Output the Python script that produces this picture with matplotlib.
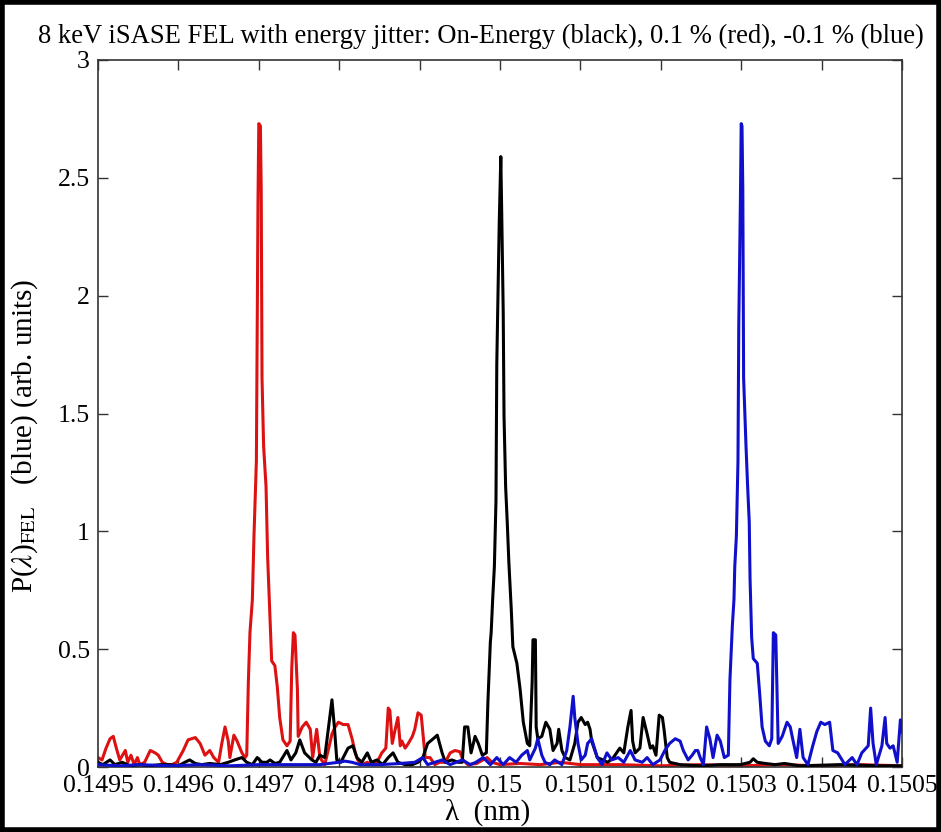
import matplotlib
matplotlib.use("Agg")
import matplotlib.pyplot as plt
from matplotlib.patches import Rectangle

plt.rcParams['font.family'] = ['Liberation Serif', 'DejaVu Serif']
plt.rcParams['mathtext.fontset'] = 'stix'

# ---- data: wavelength (nm) and power (arb. units) ----
red_x = [0.149500, 0.149505, 0.149510, 0.149515, 0.149519, 0.149522, 0.149527, 0.149534, 0.149537, 0.149541,
         0.149545, 0.149549, 0.149552, 0.149558, 0.149565, 0.149571, 0.149575, 0.149580, 0.149586, 0.149592,
         0.149598, 0.149606, 0.149612, 0.149621, 0.149627, 0.149633, 0.149639, 0.149644, 0.149650, 0.149654,
         0.149658, 0.149662, 0.149664, 0.149669, 0.149673, 0.149679, 0.149683, 0.149685, 0.149687, 0.149689,
         0.149692, 0.149693, 0.149694, 0.149697, 0.149698, 0.149699, 0.149700, 0.149702, 0.149703, 0.149704,
         0.149706, 0.149709, 0.149710, 0.149711, 0.149714, 0.149716, 0.149720, 0.149723, 0.149726, 0.149730,
         0.149735, 0.149739, 0.149741, 0.149743, 0.149745, 0.149748, 0.149749, 0.149754, 0.149759, 0.149764,
         0.149767, 0.149772, 0.149776, 0.149782, 0.149787, 0.149791, 0.149795, 0.149799, 0.149805, 0.149811,
         0.149816, 0.149820, 0.149823, 0.149828, 0.149835, 0.149841, 0.149847, 0.149853, 0.149858, 0.149861,
         0.149863, 0.149866, 0.149869, 0.149873, 0.149876, 0.149878, 0.149882, 0.149886, 0.149891, 0.149894,
         0.149898, 0.149902, 0.149907, 0.149913, 0.149919, 0.149925, 0.149932, 0.149938, 0.149944, 0.149950,
         0.149954, 0.149960, 0.149971, 0.149984, 0.149990, 0.150000, 0.150025, 0.150050, 0.150075, 0.150100,
         0.150149, 0.150199, 0.150249, 0.150299, 0.150348, 0.150398, 0.150448, 0.150500]
red_y = [0.04, 0.03, 0.08, 0.12, 0.13, 0.09, 0.03, 0.07, 0.02, 0.05,
         0.01, 0.04, 0.01, 0.02, 0.07, 0.06, 0.05, 0.02, 0.01, 0.01,
         0.02, 0.07, 0.115, 0.125, 0.10, 0.05, 0.07, 0.04, 0.02, 0.10,
         0.17, 0.11, 0.04, 0.135, 0.11, 0.06, 0.04, 0.05, 0.36, 0.57,
         0.71, 0.85, 0.98, 1.30, 1.88, 2.40, 2.73, 2.72, 2.45, 1.65,
         1.36, 1.19, 1.04, 0.89, 0.62, 0.45, 0.43, 0.34, 0.21, 0.115,
         0.09, 0.11, 0.42, 0.57, 0.56, 0.33, 0.13, 0.17, 0.19, 0.16,
         0.04, 0.16, 0.04, 0.01, 0.08, 0.14, 0.17, 0.19, 0.18, 0.18,
         0.12, 0.06, 0.03, 0.01, 0.02, 0.01, 0.02, 0.06, 0.08, 0.25,
         0.24, 0.10, 0.15, 0.21, 0.09, 0.11, 0.08, 0.10, 0.13, 0.16,
         0.23, 0.22, 0.04, 0.04, 0.01, 0.02, 0.02, 0.06, 0.07, 0.065,
         0.03, 0.01, 0.015, 0.04, 0.02, 0.01, 0.015, 0.01, 0.02, 0.01,
         0.01, 0.005, 0.01, 0.005, 0.01, 0.005, 0.01, 0.005]

black_x = [0.149500, 0.149506, 0.149515, 0.149521, 0.149530, 0.149540, 0.149552, 0.149565, 0.149577, 0.149590,
           0.149600, 0.149608, 0.149614, 0.149621, 0.149629, 0.149639, 0.149652, 0.149662, 0.149670, 0.149679,
           0.149685, 0.149692, 0.149698, 0.149704, 0.149710, 0.149714, 0.149720, 0.149726, 0.149735, 0.149740,
           0.149746, 0.149751, 0.149757, 0.149766, 0.149771, 0.149776, 0.149782, 0.149786, 0.149791, 0.149794,
           0.149797, 0.149802, 0.149811, 0.149817, 0.149822, 0.149828, 0.149835, 0.149840, 0.149847, 0.149854,
           0.149861, 0.149867, 0.149873, 0.149882, 0.149891, 0.149898, 0.149904, 0.149910, 0.149917, 0.149922,
           0.149928, 0.149932, 0.149940, 0.149948, 0.149953, 0.149956, 0.149960, 0.149964, 0.149969, 0.149973,
           0.149978, 0.149983, 0.149985, 0.149988, 0.149989, 0.149991, 0.149993, 0.149995, 0.149996, 0.149998,
           0.149999, 0.150001, 0.150002, 0.150004, 0.150005, 0.150007, 0.150009, 0.150011, 0.150014, 0.150016,
           0.150021, 0.150025, 0.150029, 0.150034, 0.150037, 0.150040, 0.150041, 0.150044, 0.150045, 0.150047,
           0.150052, 0.150057, 0.150062, 0.150066, 0.150071, 0.150073, 0.150077, 0.150081, 0.150087, 0.150093,
           0.150097, 0.150101, 0.150106, 0.150109, 0.150112, 0.150114, 0.150121, 0.150128, 0.150134, 0.150141,
           0.150149, 0.150154, 0.150159, 0.150163, 0.150165, 0.150168, 0.150174, 0.150178, 0.150183, 0.150187,
           0.150190, 0.150194, 0.150198, 0.150202, 0.150204, 0.150208, 0.150211, 0.150224, 0.150249, 0.150274,
           0.150299, 0.150311, 0.150315, 0.150320, 0.150330, 0.150342, 0.150354, 0.150373, 0.150423, 0.150473,
           0.150500]
black_y = [0.02, 0.01, 0.03, 0.01, 0.02, 0.005, 0.01, 0.005, 0.01, 0.01,
           0.005, 0.02, 0.03, 0.015, 0.01, 0.015, 0.01, 0.02, 0.03, 0.04,
           0.02, 0.01, 0.04, 0.02, 0.02, 0.03, 0.015, 0.02, 0.07, 0.03,
           0.06, 0.115, 0.06, 0.03, 0.02, 0.05, 0.04, 0.15, 0.285, 0.17,
           0.03, 0.02, 0.08, 0.09, 0.04, 0.02, 0.06, 0.02, 0.03, 0.01,
           0.04, 0.06, 0.02, 0.01, 0.01, 0.02, 0.04, 0.10, 0.12, 0.135,
           0.06, 0.02, 0.03, 0.02, 0.02, 0.17, 0.17, 0.06, 0.13, 0.10,
           0.05, 0.06, 0.28, 0.53, 0.57, 0.72, 0.85, 1.13, 1.71, 2.10,
           2.30, 2.59, 2.38, 1.93, 1.49, 1.19, 1.04, 0.87, 0.67, 0.51,
           0.44, 0.33, 0.19, 0.10, 0.09, 0.36, 0.54, 0.54, 0.17, 0.12,
           0.13, 0.19, 0.16, 0.07, 0.10, 0.16, 0.07, 0.04, 0.03, 0.10,
           0.19, 0.21, 0.18, 0.19, 0.16, 0.11, 0.04, 0.03, 0.02, 0.04,
           0.08, 0.06, 0.17, 0.24, 0.11, 0.06, 0.08, 0.21, 0.14, 0.08,
           0.09, 0.05, 0.22, 0.21, 0.16, 0.04, 0.02, 0.01, 0.005, 0.01,
           0.01, 0.02, 0.035, 0.02, 0.015, 0.01, 0.015, 0.005, 0.01, 0.005,
           0.005]

blue_x = [0.149500, 0.149527, 0.149552, 0.149590, 0.149627, 0.149664, 0.149701, 0.149739, 0.149776, 0.149799,
          0.149807, 0.149816, 0.149826, 0.149851, 0.149876, 0.149894, 0.149904, 0.149910, 0.149919, 0.149928,
          0.149938, 0.149953, 0.149963, 0.149970, 0.149979, 0.149988, 0.149996, 0.150004, 0.150012, 0.150020,
          0.150027, 0.150034, 0.150037, 0.150044, 0.150047, 0.150052, 0.150056, 0.150062, 0.150068, 0.150077,
          0.150083, 0.150087, 0.150091, 0.150093, 0.150097, 0.150101, 0.150106, 0.150109, 0.150114, 0.150121,
          0.150127, 0.150133, 0.150139, 0.150147, 0.150154, 0.150162, 0.150168, 0.150177, 0.150183, 0.150190,
          0.150199, 0.150205, 0.150211, 0.150218, 0.150224, 0.150228, 0.150234, 0.150239, 0.150243, 0.150246,
          0.150249, 0.150253, 0.150257, 0.150261, 0.150265, 0.150270, 0.150274, 0.150279, 0.150284, 0.150286,
          0.150289, 0.150291, 0.150292, 0.150294, 0.150296, 0.150297, 0.150299, 0.150300, 0.150301, 0.150302,
          0.150303, 0.150306, 0.150308, 0.150310, 0.150311, 0.150313, 0.150315, 0.150320, 0.150323, 0.150326,
          0.150330, 0.150335, 0.150338, 0.150340, 0.150343, 0.150346, 0.150351, 0.150357, 0.150361, 0.150364,
          0.150369, 0.150373, 0.150377, 0.150383, 0.150389, 0.150394, 0.150399, 0.150404, 0.150410, 0.150414,
          0.150420, 0.150429, 0.150438, 0.150444, 0.150450, 0.150458, 0.150461, 0.150464, 0.150468, 0.150475,
          0.150479, 0.150481, 0.150485, 0.150489, 0.150494, 0.150498, 0.150500]
blue_y = [0.01, 0.005, 0.01, 0.005, 0.01, 0.005, 0.01, 0.01, 0.01, 0.02,
          0.025, 0.02, 0.01, 0.01, 0.015, 0.02, 0.04, 0.01, 0.02, 0.03,
          0.01, 0.03, 0.01, 0.02, 0.04, 0.01, 0.04, 0.01, 0.04, 0.02,
          0.05, 0.07, 0.03, 0.08, 0.12, 0.05, 0.02, 0.01, 0.03, 0.01,
          0.07, 0.17, 0.30, 0.21, 0.10, 0.03, 0.05, 0.10, 0.12, 0.04,
          0.01, 0.06, 0.03, 0.04, 0.02, 0.07, 0.03, 0.02, 0.04, 0.01,
          0.03, 0.07, 0.10, 0.12, 0.11, 0.07, 0.03, 0.05, 0.07, 0.07,
          0.04, 0.01, 0.17, 0.12, 0.04, 0.135, 0.11, 0.04, 0.05, 0.37,
          0.60, 0.71, 0.85, 0.98, 1.30, 1.88, 2.40, 2.73, 2.72, 2.45,
          1.65, 1.36, 1.19, 1.04, 0.80, 0.55, 0.46, 0.44, 0.31, 0.17,
          0.11, 0.09, 0.12, 0.57, 0.56, 0.10, 0.13, 0.19, 0.17, 0.12,
          0.04, 0.16, 0.04, 0.01, 0.09, 0.15, 0.19, 0.18, 0.19, 0.07,
          0.06, 0.01, 0.04, 0.01, 0.06, 0.09, 0.25, 0.10, 0.01, 0.09,
          0.21, 0.10, 0.08, 0.09, 0.02, 0.20, 0.15]

x_ticks = [0.1495, 0.1496, 0.1497, 0.1498, 0.1499, 0.15, 0.1501, 0.1502, 0.1503, 0.1504, 0.1505]
x_ticklabels = ['0.1495', '0.1496', '0.1497', '0.1498', '0.1499', '0.15', '0.1501', '0.1502', '0.1503', '0.1504', '0.1505']
y_ticks = [0, 0.5, 1, 1.5, 2, 2.5, 3]
y_ticklabels = ['0', '0.5', '1', '1.5', '2', '2.5', '3']

title = '8 keV iSASE FEL with energy jitter: On-Energy (black), 0.1 % (red), -0.1 % (blue)'

fig = plt.figure(figsize=(9.41, 8.32), dpi=100)
ax = fig.add_axes([98/941, 65/832, 804/941, 707/832])

lw = 2.2
ax.plot(red_x, red_y, color='#dd1111', lw=lw, zorder=2)
ax.plot(black_x, black_y, color='black', lw=lw, zorder=3)
ax.plot(blue_x, blue_y, color='#1010cc', lw=lw, zorder=4)

ax.set_xlim(0.1495, 0.1505)
ax.set_ylim(0, 3)
ax.set_xticks(x_ticks)
ax.set_xticklabels(x_ticklabels)
ax.set_yticks(y_ticks)
ax.set_yticklabels(y_ticklabels)
ax.tick_params(direction='in', length=7, width=1, top=True, right=True,
               labelsize=18.5, color='#333333')
ax.tick_params(axis='x', pad=6)
ax.tick_params(axis='y', pad=6)
for s in ax.spines.values():
    s.set_color('#333333')
    s.set_linewidth(1.2)

ax.set_xlabel('λ  (nm)', fontsize=21)
ax.xaxis.set_label_coords(0.484, -0.045)
ax.set_ylabel(r'P($\lambda$)$_{\mathrm{FEL}}$   (blue) (arb. units)', fontsize=21)
ax.yaxis.set_label_coords(-0.072, 0.468)

fig.text(481/941, 1 - 36/832, title, fontsize=19.2, ha='center', va='center')

fig.patches.append(Rectangle((0.002, 0.002), 0.996, 0.996, transform=fig.transFigure,
                             fill=False, edgecolor='black', lw=4))

fig.savefig('out.png', dpi=100)
